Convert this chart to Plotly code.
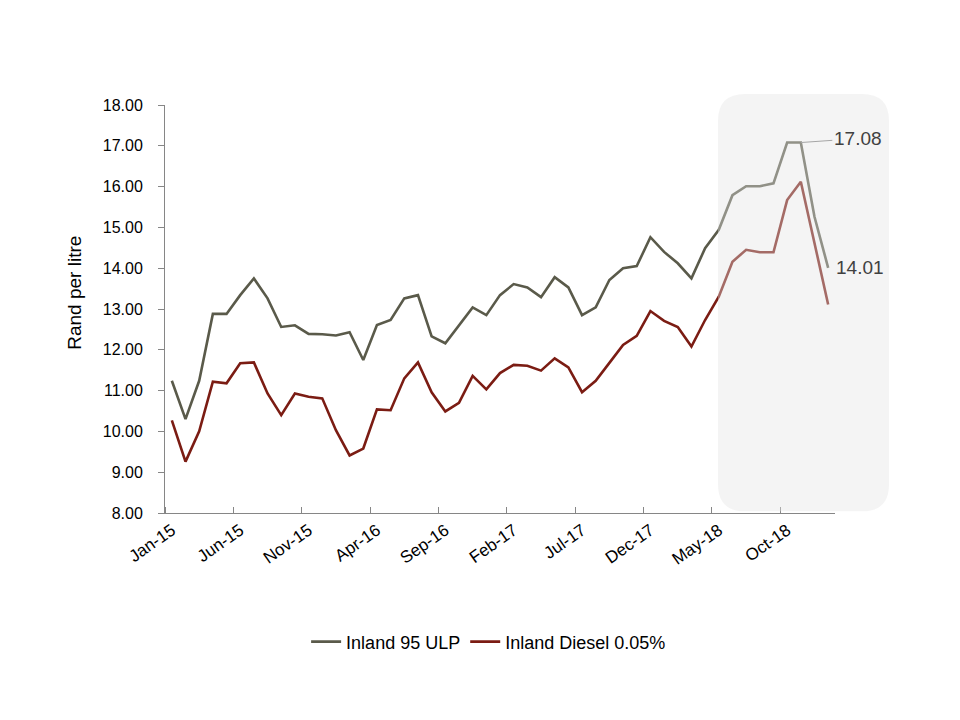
import pandas as pd
import plotly.graph_objects as go

# Monthly inland fuel prices, Jan-15 .. Jan-19 (Rand per litre)
months = pd.date_range("2015-01-01", periods=49, freq="MS").strftime("%b-%y").tolist()

ulp_95 = [11.24, 10.30, 11.24, 12.88, 12.88, 13.34, 13.75, 13.26, 12.56, 12.60,
          12.39, 12.38, 12.35, 12.43, 11.75, 12.61, 12.73, 13.26, 13.34, 12.33,
          12.16, 12.61, 13.04, 12.85, 13.34, 13.61, 13.53, 13.29, 13.78, 13.53,
          12.85, 13.04, 13.71, 14.00, 14.05, 14.76, 14.40, 14.12, 13.75, 14.49,
          14.94, 15.79, 16.01, 16.01, 16.08, 17.08, 17.08, 15.26, 14.01]

diesel_005 = [10.27, 9.26, 10.00, 11.22, 11.18, 11.67, 11.69, 10.93, 10.40, 10.93,
              10.85, 10.81, 10.03, 9.41, 9.58, 10.54, 10.52, 11.30, 11.69, 10.96,
              10.49, 10.70, 11.36, 11.03, 11.43, 11.63, 11.61, 11.49, 11.79, 11.57,
              10.96, 11.24, 11.68, 12.12, 12.34, 12.95, 12.71, 12.56, 12.08, 12.73,
              13.30, 14.16, 14.45, 14.39, 14.39, 15.67, 16.12, 14.60, 13.11]

idx = list(range(len(months)))
label_idx = idx[::5]
tick_labels = [months[i] for i in label_idx]

ULP_COLOR = "#5a5a4a"
DIESEL_COLOR = "#7b1c13"
AXIS_COLOR = "#868686"
FONT = "Liberation Sans Narrow, Arial Narrow, Liberation Sans, Arial, sans-serif"

fig = go.Figure()
fig.add_trace(go.Scatter(x=idx, y=ulp_95, mode="lines", name="Inland 95 ULP",
                         line=dict(color=ULP_COLOR, width=2.6)))
fig.add_trace(go.Scatter(x=idx, y=diesel_005, mode="lines", name="Inland Diesel 0.05%",
                         line=dict(color=DIESEL_COLOR, width=2.6)))

# rounded highlight box over the last months (paper coords)
x0, x1, y0, y1 = 0.8254, 1.0806, 0.004, 1.027
rx, ry = 27 / 670, 27 / 408
path = (f"M {x0+rx},{y1} L {x1-rx},{y1} Q {x1},{y1} {x1},{y1-ry} "
        f"L {x1},{y0+ry} Q {x1},{y0} {x1-rx},{y0} L {x0+rx},{y0} "
        f"Q {x0},{y0} {x0},{y0+ry} L {x0},{y1-ry} Q {x0},{y1} {x0+rx},{y1} Z")
fig.add_shape(type="path", path=path, xref="paper", yref="paper", layer="above",
              fillcolor="rgba(228,228,228,0.4)", line=dict(width=0))

peak = max(ulp_95)
peak_i = len(ulp_95) - 1 - ulp_95[::-1].index(peak)
fig.add_annotation(x=peak_i, y=peak, text=f"{peak:.2f}", showarrow=True,
                   arrowhead=0, arrowwidth=1, arrowcolor="#a6a6a6",
                   ax=57, ay=-4, font=dict(size=19, color="#404040", family="Liberation Sans, Arial"))
fig.add_annotation(x=idx[-1], y=ulp_95[-1], text=f"{ulp_95[-1]:.2f}", showarrow=False,
                   xanchor="left", xshift=6,
                   font=dict(size=19, color="#404040", family="Liberation Sans, Arial"))

# y-axis title
fig.add_annotation(text="Rand per litre", xref="paper", yref="paper", x=-0.155, y=0.539,
                   textangle=-90, showarrow=False,
                   font=dict(size=19, color="#000000", family="Liberation Sans, Arial"))

fig.update_xaxes(range=[-0.5, len(idx) - 0.5], tickmode="array", tickvals=label_idx,
                 ticktext=tick_labels, tickangle=-35, ticks="", showline=True,
                 linecolor=AXIS_COLOR, linewidth=1, showgrid=False, zeroline=False,
                 tickfont=dict(size=17, color="#000000", family=FONT),
                 minor=dict(tickmode="array", tickvals=[i - 0.5 for i in label_idx],
                            ticks="inside", ticklen=6, tickcolor=AXIS_COLOR, showgrid=False))
fig.update_yaxes(range=[8, 18], dtick=1, tickformat=".2f", ticks="outside", ticklen=6,
                 tickcolor=AXIS_COLOR, showline=True, linecolor=AXIS_COLOR, linewidth=1,
                 showgrid=False, zeroline=False, ticklabelstandoff=12,
                 tickfont=dict(size=16, color="#000000", family=FONT))

fig.update_layout(
    width=960, height=720, autosize=False,
    margin=dict(l=157, r=133, t=97, b=215),
    paper_bgcolor="white", plot_bgcolor="white",
    font=dict(family="Liberation Sans, Arial", color="#000000"),
    showlegend=True,
    legend=dict(orientation="h", x=0.483, xanchor="center", y=-0.316, yanchor="middle",
                font=dict(size=18, color="#000000")),
)

fig.write_html("out.html")
